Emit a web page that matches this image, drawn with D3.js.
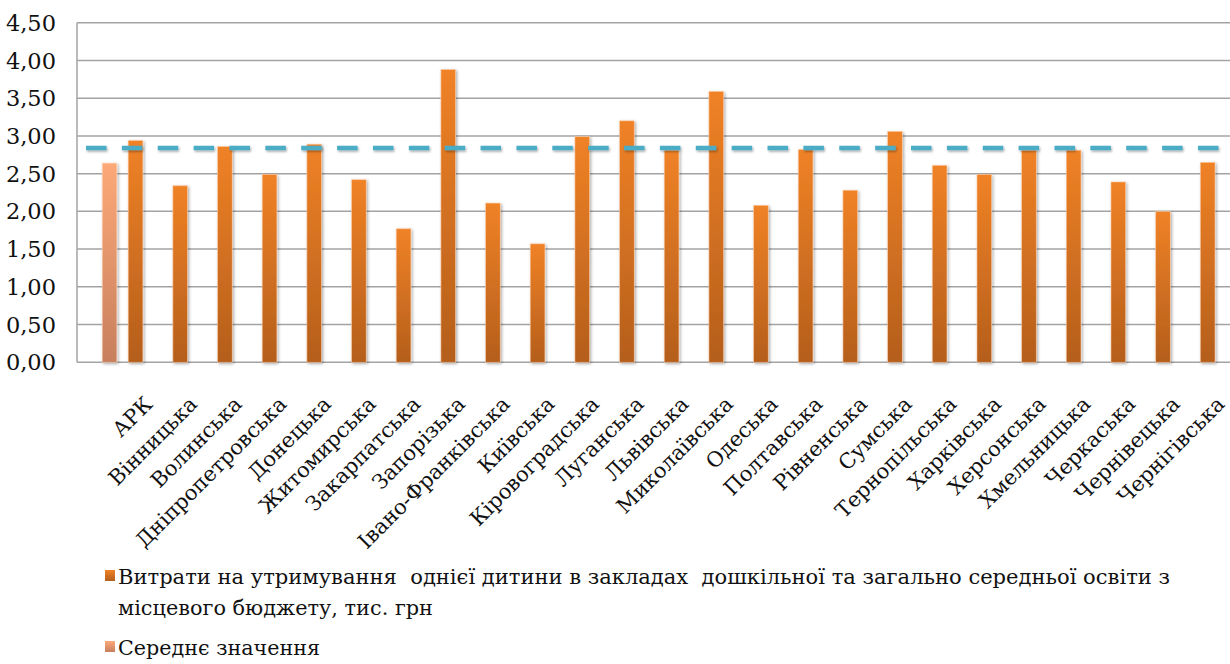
<!DOCTYPE html>
<html>
<head>
<meta charset="utf-8">
<script src="https://cdn.jsdelivr.net/npm/d3@7"></script>
<style>
  html, body { margin: 0; padding: 0; background: #ffffff; }
</style>
</head>
<body>
<svg id="chart" width="1230" height="664"></svg>
<script>
// Regions of Ukraine
const regions = [
  "АРК", "Вінницька", "Волинська", "Дніпропетровська", "Донецька", "Житомирська",
  "Закарпатська", "Запорізька", "Івано-Франківська", "Київська", "Кіровоградська",
  "Луганська", "Львівська", "Миколаївська", "Одеська", "Полтавська", "Рівненська",
  "Сумська", "Тернопільська", "Харківська", "Херсонська", "Хмельницька",
  "Черкаська", "Чернівецька", "Чернігівська"
];

// Spending per child from the local budget, thousand UAH
const spending = [
  2.94, 2.34, 2.86, 2.49, 2.89, 2.42, 1.77, 3.88, 2.11, 1.57, 2.99,
  3.20, 2.81, 3.59, 2.08, 2.82, 2.28, 3.06, 2.61, 2.49, 2.81, 2.81,
  2.39, 2.00, 2.65
];

// Second series ("mean value"): only the first category carries a bar
const meanSeries = [
  2.64, null, null, null, null, null, null, null, null, null, null,
  null, null, null, null, null, null, null, null, null, null, null,
  null, null, null
];

// Level of the dashed reference line
const averageLevel = 2.84;

const yTicks = [0, 0.5, 1, 1.5, 2, 2.5, 3, 3.5, 4, 4.5];

const legendItems = [
  { lines: ["Витрати на утримування  однієї дитини в закладах  дошкільної та загально середньої освіти з",
            "місцевого бюджету, тис. грн"], fill: "url(#gradMain)" },
  { lines: ["Середнє значення"], fill: "url(#gradMean)" }
];

const FONT = "DejaVu Serif";
const svg = d3.select("#chart");

const plot = { left: 77, right: 1230, top: 22.7, bottom: 362.3 };

const y = d3.scaleLinear().domain([0, 4.5]).range([plot.bottom, plot.top]);
const x = d3.scaleBand().domain(regions).range([113.2, plot.right]).padding(0);
const barW = 14.7;
const meanOffset = -26;

const defs = svg.append("defs");
function vGrad(id, top, bottom) {
  const g = defs.append("linearGradient").attr("id", id)
    .attr("x1", 0).attr("y1", 0).attr("x2", 0).attr("y2", 1);
  g.append("stop").attr("offset", "0%").attr("stop-color", top);
  g.append("stop").attr("offset", "100%").attr("stop-color", bottom);
}
vGrad("gradMain", "#F08226", "#B45E1C");
vGrad("gradMean", "#FDA978", "#C77F5D");

const sh = defs.append("filter").attr("id", "shadow")
  .attr("x", "-50%").attr("y", "-10%").attr("width", "200%").attr("height", "120%");
sh.append("feDropShadow").attr("dx", 1.2).attr("dy", 1.2).attr("stdDeviation", 1.8)
  .attr("flood-color", "#000").attr("flood-opacity", 0.35);

// Line shadow uses user-space region (a horizontal line has zero-height bbox)
const lsh = defs.append("filter").attr("id", "lineShadow")
  .attr("filterUnits", "userSpaceOnUse")
  .attr("x", 0).attr("y", 0).attr("width", 1230).attr("height", 664);
lsh.append("feDropShadow").attr("dx", 1).attr("dy", 1.5).attr("stdDeviation", 1.2)
  .attr("flood-color", "#000").attr("flood-opacity", 0.35);

// Gridlines
svg.append("g").selectAll("line").data(yTicks).join("line")
  .attr("x1", plot.left).attr("x2", plot.right)
  .attr("y1", d => y(d)).attr("y2", d => y(d))
  .attr("stroke", "#A3A3A3").attr("stroke-width", 1.5);

// Vertical axis line
svg.append("line")
  .attr("x1", plot.left).attr("x2", plot.left)
  .attr("y1", y(4.5)).attr("y2", y(0))
  .attr("stroke", "#A3A3A3").attr("stroke-width", 1.5);

// Y tick labels
const fmt = d3.format(".2f");
svg.append("g").selectAll("text").data(yTicks).join("text")
  .attr("x", 56).attr("y", d => y(d)).attr("dy", "0.36em")
  .attr("text-anchor", "end").attr("font-size", 22.5).attr("fill", "#111")
  .style("font-family", FONT)
  .text(d => fmt(d).replace(".", ","));

// Mean-series bar
svg.append("g").selectAll("rect")
  .data(regions.map((r, i) => ({ r, v: meanSeries[i] })).filter(d => d.v != null))
  .join("rect")
  .attr("x", d => x(d.r) + x.bandwidth() / 2 - barW / 2 + meanOffset)
  .attr("width", barW)
  .attr("y", d => y(d.v)).attr("height", d => y(0) - y(d.v))
  .attr("fill", "url(#gradMean)")
  .attr("stroke", "rgba(255,225,200,0.7)").attr("stroke-width", 0.8)
  .attr("filter", "url(#shadow)");

// Spending bars
svg.append("g").selectAll("rect")
  .data(regions.map((r, i) => ({ r, v: spending[i] })))
  .join("rect")
  .attr("x", d => x(d.r) + x.bandwidth() / 2 - barW / 2)
  .attr("width", barW)
  .attr("y", d => y(d.v)).attr("height", d => y(0) - y(d.v))
  .attr("fill", "url(#gradMain)")
  .attr("stroke", "rgba(255,210,175,0.7)").attr("stroke-width", 0.8)
  .attr("filter", "url(#shadow)");

// Dashed reference line
svg.append("line")
  .attr("x1", 86).attr("x2", 1222)
  .attr("y1", y(averageLevel)).attr("y2", y(averageLevel))
  .attr("stroke", "#4BACC6").attr("stroke-width", 4.5)
  .attr("stroke-dasharray", "20.5,15.37")
  .attr("filter", "url(#lineShadow)");

// Category labels, rotated
svg.append("g").selectAll("text").data(regions).join("text")
  .attr("transform", d => `translate(${x(d) + x.bandwidth() / 2 + 13},${plot.bottom + 38}) rotate(-45)`)
  .attr("dy", "0.35em")
  .attr("text-anchor", "end").attr("font-size", 21).attr("fill", "#111")
  .style("font-family", FONT)
  .text(d => d);

// Legend
const legendX = 105, textX = 118;
const lineBase = [584, 615, 655];
const legendWidths = [[1052, 315], [202]];
let li = 0;
legendItems.forEach((item, k) => {
  const firstBase = lineBase[li];
  svg.append("rect")
    .attr("x", legendX).attr("y", firstBase - 14)
    .attr("width", 10).attr("height", 11)
    .attr("fill", item.fill);
  item.lines.forEach((ln, j) => {
    svg.append("text")
      .attr("x", textX).attr("y", lineBase[li])
      .attr("font-size", 20).attr("fill", "#111")
      .style("font-family", FONT)
      .style("white-space", "pre")
      .attr("textLength", legendWidths[k][j])
      .attr("lengthAdjust", "spacingAndGlyphs")
      .text(ln);
    li++;
  });
});
</script>
</body>
</html>
